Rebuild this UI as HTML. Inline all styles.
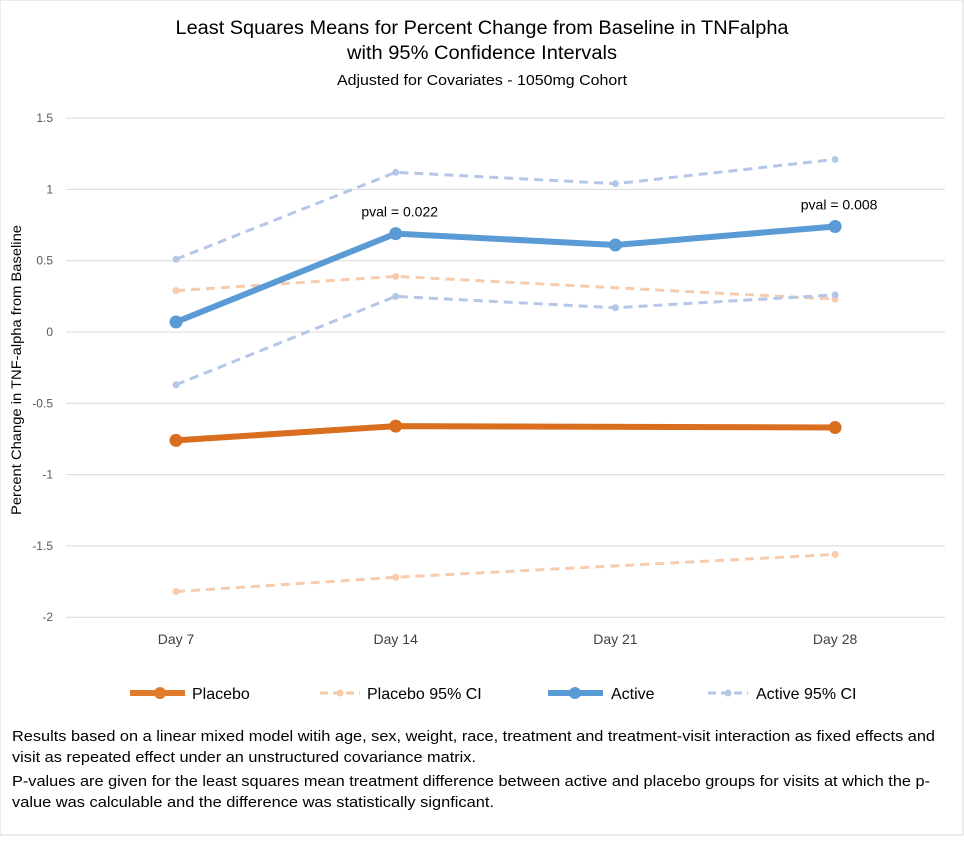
<!DOCTYPE html>
<html><head><meta charset="utf-8"><style>
body{margin:0;background:#fff;font-family:"Liberation Sans",sans-serif}
svg text{font-family:"Liberation Sans",sans-serif}
</style></head><body>
<svg width="964" height="836">
<rect x="0" y="0" width="963" height="835" fill="#fff" stroke="#d9d9d9"/>
<g text-anchor="middle" fill="#000">
<text x="482" y="34" font-size="19" textLength="613" lengthAdjust="spacingAndGlyphs">Least Squares Means for Percent Change from Baseline in TNFalpha</text>
<text x="482" y="59" font-size="19" textLength="270" lengthAdjust="spacingAndGlyphs">with 95% Confidence Intervals</text>
<text x="482" y="85" font-size="15" textLength="290" lengthAdjust="spacingAndGlyphs">Adjusted for Covariates - 1050mg Cohort</text>
</g>
<g id="grid"></g><g id="series"></g>
<text transform="translate(21,370) rotate(-90)" text-anchor="middle" font-size="14" textLength="290" lengthAdjust="spacingAndGlyphs">Percent Change in TNF-alpha from Baseline</text>
<g font-size="16">
<g><line x1="130" y1="693" x2="185" y2="693" stroke="#E07B2C" stroke-width="6"/><circle cx="160" cy="693" r="6" fill="#E07B2C"/><text x="192" y="699">Placebo</text></g>
<g><line x1="320" y1="693" x2="360" y2="693" stroke="#F5CBA7" stroke-width="3" stroke-dasharray="8,5"/><circle cx="340" cy="693" r="3.5" fill="#F5CBA7"/><text x="367" y="699">Placebo 95% CI</text></g>
<g><line x1="548" y1="693" x2="603" y2="693" stroke="#5B9BD5" stroke-width="6"/><circle cx="575" cy="693" r="6" fill="#5B9BD5"/><text x="611" y="699">Active</text></g>
<g><line x1="708" y1="693" x2="748" y2="693" stroke="#B4C7E7" stroke-width="3" stroke-dasharray="8,5"/><circle cx="728" cy="693" r="3.5" fill="#B4C7E7"/><text x="756" y="699">Active 95% CI</text></g>
</g>
<g font-size="15">
<text x="12" y="741" textLength="923" lengthAdjust="spacingAndGlyphs">Results based on a linear mixed model witih age, sex, weight, race, treatment and treatment-visit interaction as fixed effects and</text>
<text x="12" y="762" textLength="464" lengthAdjust="spacingAndGlyphs">visit as repeated effect under an unstructured covariance matrix.</text>
<text x="12" y="786" textLength="918" lengthAdjust="spacingAndGlyphs">P-values are given for the least squares mean treatment difference between active and placebo groups for visits at which the p-</text>
<text x="12" y="807" textLength="482" lengthAdjust="spacingAndGlyphs">value was calculable and  the difference was statistically signficant.</text>
</g>
</svg>
<script>
const categories=["Day 7","Day 14","Day 21","Day 28"];
const yTicks=[1.5,1,0.5,0,-0.5,-1,-1.5,-2];
const active=[0.07,0.69,0.61,0.74];
const activeUpper=[0.51,1.12,1.04,1.21];
const activeLower=[-0.37,0.25,0.17,0.26];
const placebo=[-0.76,-0.66,null,-0.67];
const placeboUpper=[0.29,0.39,null,0.23];
const placeboLower=[-1.82,-1.72,null,-1.56];
const pvalLabels=[null,"pval = 0.022",null,"pval = 0.008"];
const NS="http://www.w3.org/2000/svg";
const x=i=>176+i*219.7;
const y=v=>332-v*142.6;
function mk(t,a,p){const e=document.createElementNS(NS,t);for(const k in a)e.setAttribute(k,a[k]);p.appendChild(e);return e;}
const grid=document.getElementById('grid'),ser=document.getElementById('series');
yTicks.forEach(v=>{
 const l=mk('line',{x1:66,x2:945,y1:y(v),y2:y(v),stroke:'#d9d9d9'},grid);
 
 
 const t=mk('text',{x:53,y:y(v)+4,'text-anchor':'end','font-size':12,fill:'#595959'},grid);t.textContent=v;
 
 
});
categories.forEach((c,i)=>{
 const t=mk('text',{x:x(i),y:644,'text-anchor':'middle','font-size':14,fill:'#404040'},grid);t.textContent=c;
 
 
});
function draw(vals,color,w,dash,r,name){
 const pts=[];vals.forEach((v,i)=>{if(v!==null)pts.push([x(i),y(v)]);});
 const p=mk('polyline',{points:pts.map(p=>p.join(',')).join(' '),fill:'none',stroke:color,'stroke-width':w,'stroke-dasharray':dash||'none'},ser);
 
 
 pts.forEach(q=>{const c=mk('circle',{cx:q[0],cy:q[1],r:r,fill:color},ser);
  
  });
}
draw(placeboUpper,'#F8CBAD',3,'9,6',3.5,'placebo-ci-upper');
draw(placeboLower,'#F8CBAD',3,'9,6',3.5,'placebo-ci-lower');
draw(activeUpper,'#B4C7E7',3,'9,6',3.5,'active-ci-upper');
draw(activeLower,'#B4C7E7',3,'9,6',3.5,'active-ci-lower');
draw(placebo,'#D96E1E',6,null,6.5,'placebo');
draw(active,'#5B9BD5',6,null,6.5,'active');
pvalLabels.forEach((s,i)=>{if(!s)return;
 const t=mk('text',{x:x(i)+4,y:y(active[i])-17,'text-anchor':'middle','font-size':14},ser);t.textContent=s;
 
 
});
</script>
</body></html>
